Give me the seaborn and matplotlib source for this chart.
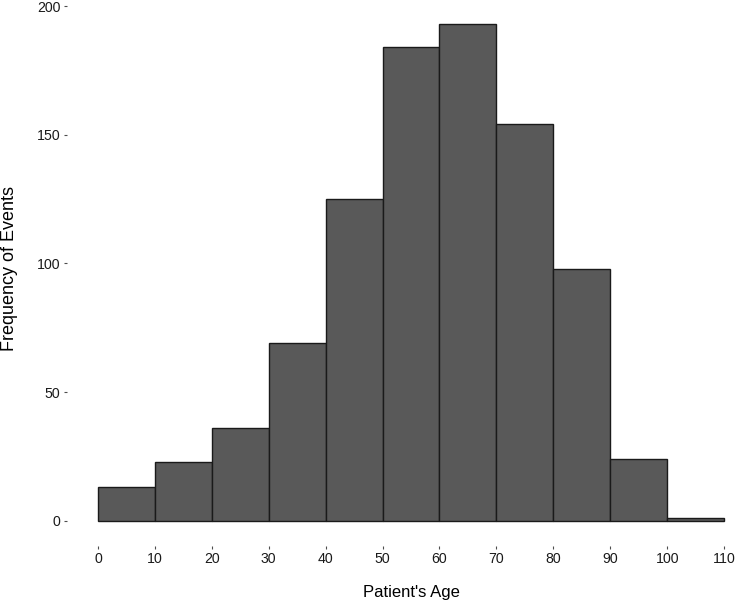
import matplotlib
matplotlib.use("Agg")
import matplotlib.pyplot as plt
import seaborn as sns
import numpy as np

# histogram counts per 10-year age bin
bin_edges = [0, 10, 20, 30, 40, 50, 60, 70, 80, 90, 100, 110]
counts = [13, 23, 36, 69, 125, 184, 193, 154, 98, 24, 1]
x_ticks = [0, 10, 20, 30, 40, 50, 60, 70, 80, 90, 100, 110]
y_ticks = [0, 50, 100, 150, 200]

sns.set_style("white")
plt.rcParams['font.family'] = ['Liberation Sans', 'DejaVu Sans']

bin_centers = [(a + b) / 2 for a, b in zip(bin_edges[:-1], bin_edges[1:])]

fig = plt.figure(figsize=(7.37, 6.03), dpi=100)
ax = fig.add_axes([0.0904, 0.0949, 0.9345, 0.9064])

sns.histplot(x=bin_centers, weights=counts, bins=bin_edges, ax=ax,
             color="#595959", edgecolor="#1a1a1a", linewidth=1.0, alpha=1)

ax.set_xlim(-5.5, 115.5)
ax.set_ylim(-9.65, 202.65)
ax.set_xticks(x_ticks)
ax.set_yticks(y_ticks)
for s in ax.spines.values():
    s.set_visible(False)

ax.tick_params(axis="both", which="major", length=2, width=0.8,
               color="#4d4d4d", labelsize=10.2, labelcolor="#1a1a1a", pad=2.5,
               bottom=True, left=True)

ax.set_xlabel("Patient's Age", fontsize=12, color="black")
ax.set_ylabel("Frequency of Events", fontsize=13, color="black")
ax.xaxis.set_label_coords(0.5, -0.071)
ax.yaxis.set_label_coords(-0.071, 0.508)

fig.savefig("out.png", dpi=100)
